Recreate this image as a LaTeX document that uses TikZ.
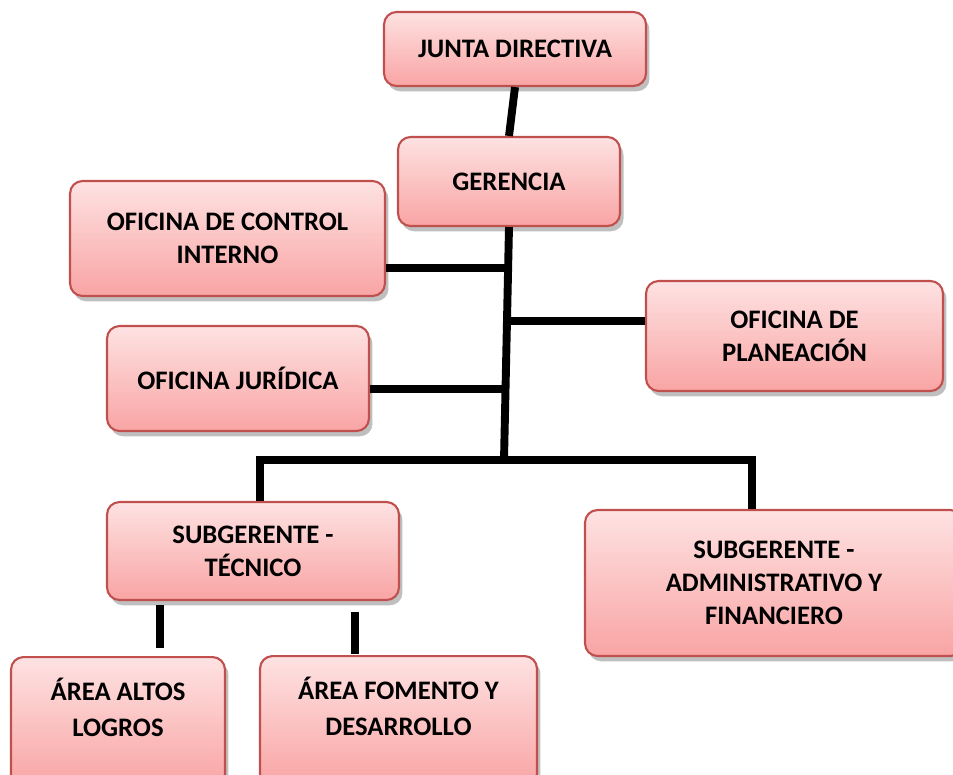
\documentclass[tikz,border=0pt]{standalone}
\usepackage{fontspec}
\setmainfont{Carlito}
\usetikzlibrary{shadows}
\definecolor{boxline}{HTML}{C0504D}
\definecolor{boxtop}{HTML}{FEE2E2}
\definecolor{boxbottom}{HTML}{F9A4A4}

\begin{document}
\begin{tikzpicture}[x=0.02cm, y=-0.02cm,
  caja/.style={draw=boxline, line width=1.2pt, rounded corners=0.25cm, top color=boxtop, bottom color=boxbottom,
    align=center, inner sep=0pt, font=\bfseries\fontsize{15.2}{18.7}\selectfont,
    drop shadow={shadow xshift=2pt, shadow yshift=-3pt, opacity=0.25, fill=black}},
  linea/.style={line width=4.5pt}]
  \useasboundingbox (0,0) rectangle (953,774);
  \node[caja, minimum width=5.24cm, minimum height=1.48cm] (junta) at (515,49) {JUNTA DIRECTIVA};
  \node[caja, minimum width=4.44cm, minimum height=1.78cm] (gerencia) at (509,181.5) {GERENCIA};
  \node[caja, minimum width=6.3cm, minimum height=2.3cm] (control) at (227.5,238.5) {OFICINA DE CONTROL\\INTERNO};
  \node[caja, minimum width=5.94cm, minimum height=2.2cm] (planeacion) at (794.5,336) {OFICINA DE\\PLANEACIÓN};
  \node[caja, minimum width=5.24cm, minimum height=2.1cm] (juridica) at (238,378.5) {OFICINA JURÍDICA};
  \node[caja, minimum width=5.84cm, minimum height=1.96cm] (tecnico) at (253,551) {SUBGERENTE -\\TÉCNICO};
  \node[caja, minimum width=7.56cm, minimum height=2.92cm] (admin) at (774,583) {SUBGERENTE -\\ADMINISTRATIVO Y\\FINANCIERO};
  \node[caja, anchor=north, minimum width=4.28cm, minimum height=2.6cm, text depth=0.6cm] (altos) at (118,656) {ÁREA ALTOS\\[2pt]LOGROS};
  \node[caja, anchor=north, minimum width=5.54cm, minimum height=2.6cm, text depth=0.6cm] (fomento) at (398.5,655) {ÁREA FOMENTO Y\\[2pt]DESARROLLO};
  \coordinate (t1) at (507,268);
  \coordinate (t2) at (507,321);
  \coordinate (t3) at (505,389);
  \coordinate (bus) at (504,460);
  \coordinate (bl) at (260,460);
  \coordinate (br) at (752,460);
  \coordinate (s1) at (160,0);
  \coordinate (s2) at (355,0);
  % Draw the connectors
  \draw[linea] (junta.south) -- (gerencia.north);
  \draw[linea] (gerencia.south) -- (bus);
  \draw[linea] (control.east |- t1) -- (t1);
  \draw[linea] (t2) -- (planeacion.west |- t2);
  \draw[linea] (juridica.east |- t3) -- (t3);
  \draw[linea] (tecnico.north -| bl) -- (bl) -- (br) -- (admin.north -| br);
  \draw[linea, shorten <=0.08cm, shorten >=0.16cm] (tecnico.south -| s1) -- (altos.north -| s1);
  \draw[linea, shorten <=0.22cm, shorten >=0.02cm] (tecnico.south -| s2) -- (fomento.north -| s2);
\end{tikzpicture}
\end{document}
